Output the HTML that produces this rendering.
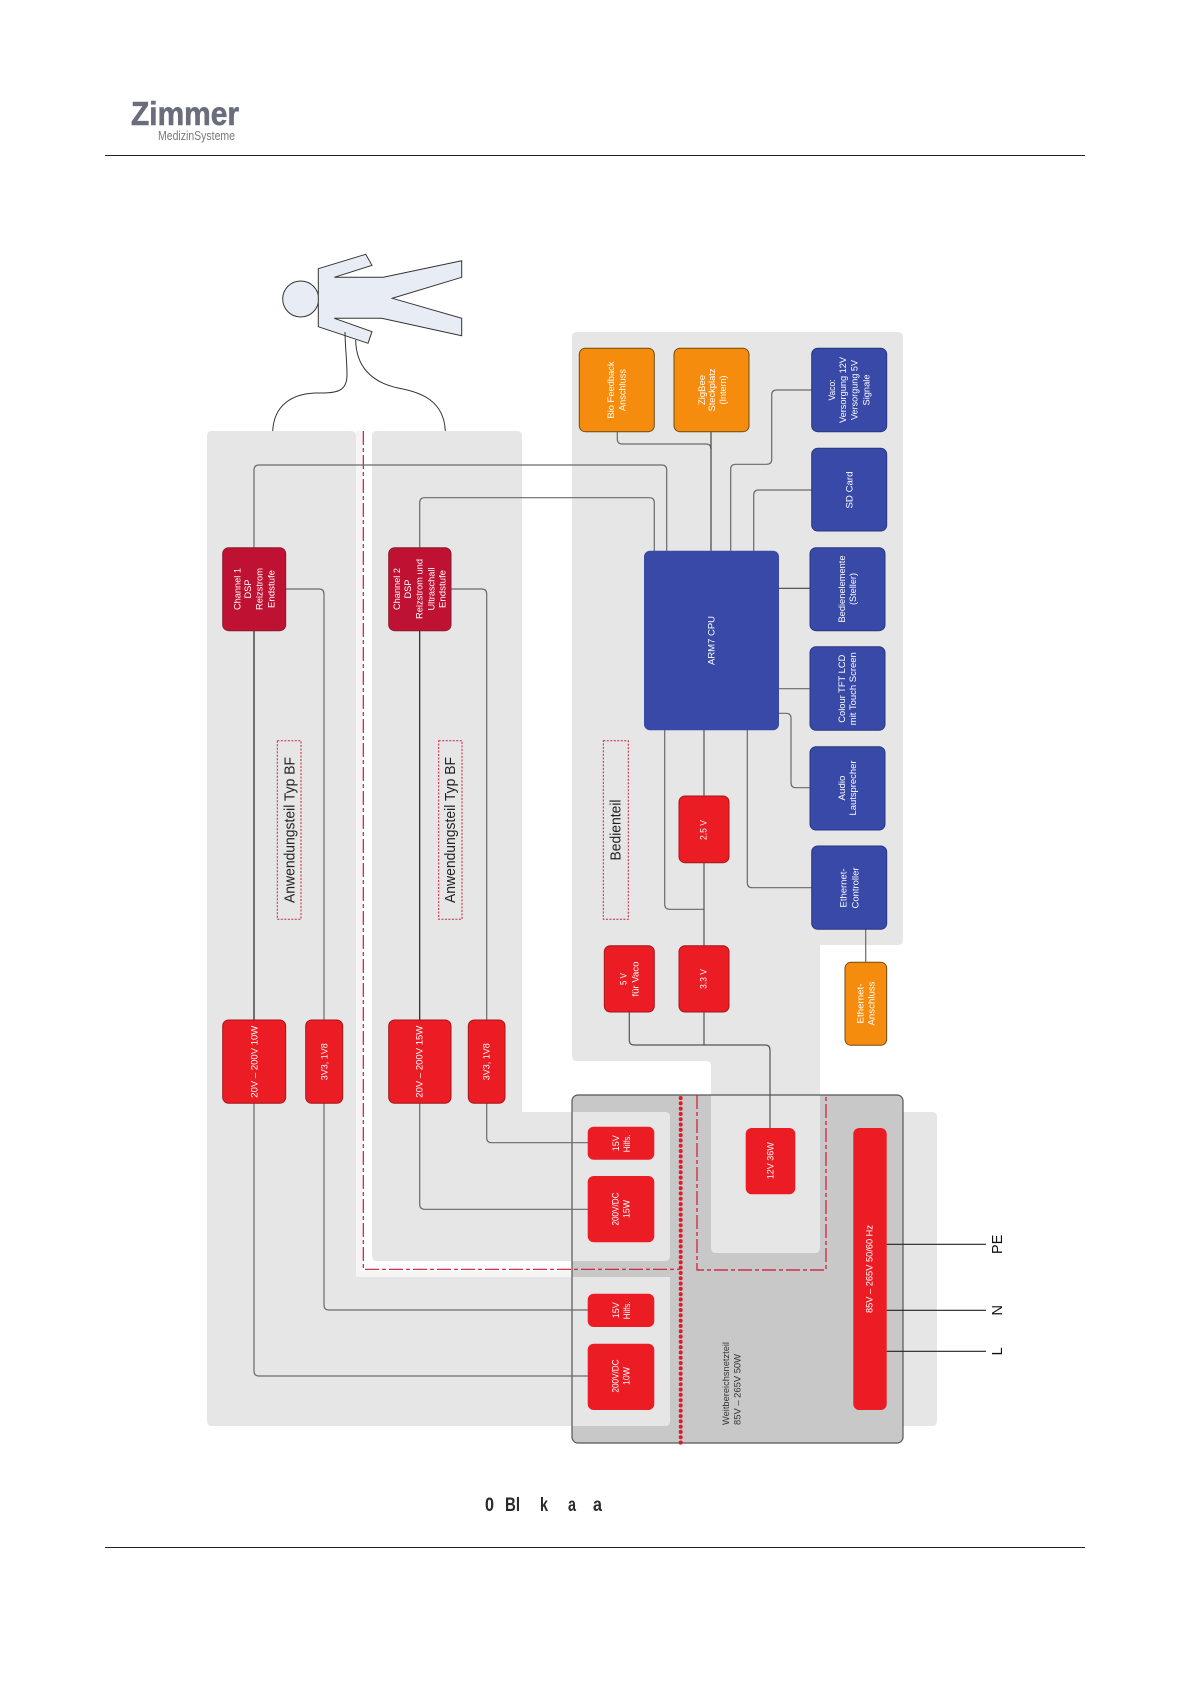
<!DOCTYPE html>
<html>
<head>
<meta charset="utf-8">
<style>
html,body{margin:0;padding:0;background:#fff}
svg{display:block;filter:blur(0.35px)}
text{font-family:"Liberation Sans",sans-serif}
.w text,.w{fill:#fff;font-size:9.5px;text-anchor:middle}
.d{fill:#222;font-size:14.5px;text-anchor:middle}
.k{fill:#333;font-size:9.5px;text-anchor:middle}
.l{fill:none;stroke:#6a6a6a;stroke-width:1.2}
.b{fill:none;stroke:#222;stroke-width:1.2}
.r{fill:#ec1c24}
.rs{fill:#ec1c24;stroke:#a3161c;stroke-width:1}
.c{fill:#bf1232;stroke:#8c1a2a;stroke-width:1}
.u{fill:#3849a8;stroke:#2a3580;stroke-width:1}
.o{fill:#f58c0e;stroke:#6e4c12;stroke-width:1}
</style>
</head>
<body>
<svg xmlns="http://www.w3.org/2000/svg" width="1190" height="1684" viewBox="0 0 1190 1684">
<rect width="1190" height="1684" fill="#fff"/>

<!-- header / footer -->
<line x1="105" y1="155.5" x2="1085" y2="155.5" stroke="#222" stroke-width="1"/>
<line x1="105" y1="1547.5" x2="1085" y2="1547.5" stroke="#222" stroke-width="1"/>
<text x="131" y="125" font-size="33" font-weight="bold" fill="#6a6e7c" stroke="#6a6e7c" stroke-width="0.6" textLength="108" lengthAdjust="spacingAndGlyphs">Zimmer</text>
<text x="158" y="140" font-size="13" fill="#7a7a7a" textLength="77" lengthAdjust="spacingAndGlyphs">MedizinSysteme</text>

<!-- person -->
<circle cx="300.7" cy="299" r="18" fill="#e8edf5" stroke="#333" stroke-width="1"/>
<polygon points="318.3,268.7 365.7,254.3 372,265.3 334.3,277.3 383.3,277.3 461.7,260.7 461.7,277.3 392.3,298.3 461.7,318.3 461.7,335.7 381.7,318.3 334.3,318.3 372,331.7 368,343.3 318.3,326.7" fill="#e8edf5" stroke="#333" stroke-width="1"/>
<path d="M272.7 431 C274 405 292 394 315 393 C335 393 347 393 347 375 C347 360 345 345 345 332" fill="none" stroke="#333" stroke-width="1"/>
<path d="M445.3 431 C444 400 420 392 398 388 C370 382 356 365 355.7 340" fill="none" stroke="#333" stroke-width="1"/>

<!-- dark box -->
<rect x="572" y="1095" width="331" height="348" rx="6" fill="#c8c8c8"/>

<!-- light panels -->
<g fill="#e6e6e6">
<path d="M212 431 H351 Q356 431 356 436 V1277 H670 V1421 Q670 1426 665 1426 H212 Q207 1426 207 1421 V436 Q207 431 212 431 Z"/>
<path d="M377 431 H517 Q522 431 522 436 V1112 H665 Q670 1112 670 1117 V1256 Q670 1261 665 1261 H377 Q372 1261 372 1256 V436 Q372 431 377 431 Z"/>
<path d="M577 332 H898 Q903 332 903 337 V940 Q903 945 898 945 H820 V1248 Q820 1253 815 1253 H716 Q711 1253 711 1248 V1066 Q711 1061 706 1061 H577 Q572 1061 572 1056 V337 Q572 332 577 332 Z"/>
<path d="M903.5 1112 H932 Q937 1112 937 1117 V1421 Q937 1426 932 1426 H903.5 Z"/>
</g>
<rect x="356" y="431" width="6" height="846" fill="#f5f5f5"/>
<rect x="356" y="1271" width="216" height="6" fill="#f5f5f5"/>

<!-- dark box border -->
<rect x="572" y="1095" width="331" height="348" rx="6" fill="none" stroke="#555" stroke-width="1.2"/>

<!-- red dashed -->
<path d="M363.3 431 V1269.3 H680" fill="none" stroke="#d01535" stroke-width="1.2" stroke-dasharray="14 3 4 3"/>
<path d="M697 1095 V1270 H826 V1095" fill="none" stroke="#d01535" stroke-width="1.2" stroke-dasharray="14 3 4 3"/>
<line x1="680.7" y1="1098" x2="680.7" y2="1445" stroke="#dd1c2c" stroke-width="4" stroke-linecap="round" stroke-dasharray="0.1 5.2"/>

<!-- label frames -->
<g fill="none" stroke="#c8203c" stroke-width="1" stroke-dasharray="2 1.5">
<rect x="277.3" y="740.7" width="23.7" height="178.6"/>
<rect x="438.7" y="740.7" width="23.3" height="178.6"/>
<rect x="603.3" y="740.7" width="25" height="178.6"/>
</g>

<!-- connectors -->
<path class="l" d="M254 548 V470 Q254 465 259 465 H661.7 Q666.7 465 666.7 470 V551"/>
<path class="l" d="M419.7 548 V502.7 Q419.7 497.7 424.7 497.7 H649.3 Q654.3 497.7 654.3 502.7 V551"/>
<path class="b" d="M254 630 V1020"/>
<path class="l" d="M254 1103 V1371 Q254 1376 259 1376 H588"/>
<path class="l" d="M286 589 H319 Q324 589 324 594 V1020"/>
<path class="l" d="M324 1103 V1305 Q324 1310 329 1310 H588"/>
<path class="l" d="M451 589 H481.7 Q486.7 589 486.7 594 V1020"/>
<path class="l" d="M486.7 1103 V1137.7 Q486.7 1142.7 491.7 1142.7 H588"/>
<path class="b" d="M419.7 630 V1020"/>
<path class="l" d="M419.7 1103 V1204.3 Q419.7 1209.3 424.7 1209.3 H588"/>
<path class="l" d="M617.3 431.7 V439 Q617.3 444 622.3 444 H706 Q711 444 711 449"/>
<path class="b" d="M711 431.7 V551" style="stroke:#444"/>
<path class="l" d="M811.7 390 H776.7 Q771.7 390 771.7 395 V459.3 Q771.7 464.3 766.7 464.3 H735.7 Q730.7 464.3 730.7 469.3 V551"/>
<path class="l" d="M811.7 490 H758.7 Q753.7 490 753.7 495 V551"/>
<path class="b" d="M779 588.3 H810" style="stroke:#444"/>
<path class="l" d="M779 688.7 H810"/>
<path class="l" d="M779 713.3 H786 Q791 713.3 791 718.3 V782.7 Q791 787.7 796 787.7 H810"/>
<path class="l" d="M747.3 730 V882.7 Q747.3 887.7 752.3 887.7 H811.7"/>
<path class="l" d="M664.7 730 V904.3 Q664.7 909.3 669.7 909.3 H704"/>
<path class="b" d="M704 730 V796 M704 862.7 V945.7 M704 1012 V1045" style="stroke:#555"/>
<path class="b" d="M629.3 1012 V1040 Q629.3 1045 634.3 1045 H765 Q770 1045 770 1050 V1128" style="stroke:#555"/>
<path class="l" d="M865.7 929 V962"/>
<path class="b" d="M886.7 1244.3 H986 M886.7 1310.3 H986 M886.7 1351.3 H986"/>

<!-- boxes -->
<rect class="o" x="579.3" y="348.3" width="75" height="83.4" rx="6"/>
<rect class="o" x="674" y="348.3" width="75" height="83.4" rx="6"/>
<rect class="u" x="811.7" y="348.3" width="75" height="83.4" rx="6"/>
<rect class="u" x="811.7" y="448.3" width="75" height="82.7" rx="6"/>
<rect class="u" x="810" y="547.7" width="75" height="83" rx="6"/>
<rect class="u" x="644" y="550.7" width="135" height="179.6" rx="6" style="stroke:none"/>
<rect class="u" x="810" y="646.7" width="75" height="83.6" rx="6"/>
<rect class="u" x="810" y="746.7" width="75" height="83.3" rx="6"/>
<rect class="u" x="811.7" y="846" width="75" height="83.3" rx="6"/>
<rect class="rs" x="679" y="796" width="50" height="66.7" rx="6"/>
<rect class="rs" x="679" y="945.7" width="50" height="66.3" rx="6"/>
<rect class="rs" x="604.3" y="945.7" width="50" height="66.3" rx="6"/>
<rect class="o" x="845" y="962.3" width="41.7" height="83" rx="6"/>
<rect class="r" x="745.7" y="1128" width="49.6" height="66.3" rx="6"/>
<rect class="r" x="853.3" y="1128" width="33.4" height="282" rx="6"/>
<rect class="r" x="587.7" y="1126.7" width="66.6" height="33" rx="6"/>
<rect class="r" x="587.7" y="1176" width="66.6" height="66.3" rx="6"/>
<rect class="r" x="587.7" y="1293.7" width="66.6" height="33.3" rx="6"/>
<rect class="r" x="587.7" y="1343.7" width="66.6" height="66.3" rx="6"/>
<rect class="c" x="222.7" y="547.7" width="63" height="83" rx="6"/>
<rect class="c" x="388.7" y="547.7" width="62.3" height="83" rx="6"/>
<rect class="rs" x="222.7" y="1020" width="63" height="83.3" rx="6"/>
<rect class="rs" x="305.7" y="1020" width="37" height="83.3" rx="6"/>
<rect class="rs" x="388.7" y="1020" width="62.3" height="83.3" rx="6"/>
<rect class="rs" x="468.3" y="1020" width="36.7" height="83.3" rx="6"/>

<!-- white labels -->
<g class="w">
<text transform="translate(614,390) rotate(-90)" textLength="57" lengthAdjust="spacingAndGlyphs">Bio Feedback</text>
<text transform="translate(625.6,390) rotate(-90)" textLength="42" lengthAdjust="spacingAndGlyphs">Anschluss</text>
<text transform="translate(705,390) rotate(-90)" textLength="30" lengthAdjust="spacingAndGlyphs">ZigBee</text>
<text transform="translate(715,390) rotate(-90)" textLength="43" lengthAdjust="spacingAndGlyphs">Steckplatz</text>
<text transform="translate(726,390) rotate(-90)" textLength="29" lengthAdjust="spacingAndGlyphs">(Intern)</text>
<text transform="translate(835,390) rotate(-90)" textLength="21" lengthAdjust="spacingAndGlyphs">Vaco:</text>
<text transform="translate(846,390) rotate(-90)" textLength="66" lengthAdjust="spacingAndGlyphs">Versorgung 12V</text>
<text transform="translate(857.3,390) rotate(-90)" textLength="60" lengthAdjust="spacingAndGlyphs">Versorgung 5V</text>
<text transform="translate(869.3,390) rotate(-90)" textLength="31" lengthAdjust="spacingAndGlyphs">Signale</text>
<text transform="translate(852.3,490) rotate(-90)" textLength="37" lengthAdjust="spacingAndGlyphs">SD Card</text>
<text transform="translate(845,589) rotate(-90)" textLength="67" lengthAdjust="spacingAndGlyphs">Bedienelemente</text>
<text transform="translate(856,589) rotate(-90)" textLength="32" lengthAdjust="spacingAndGlyphs">(Steller)</text>
<text transform="translate(714.3,640.5) rotate(-90)" textLength="49" lengthAdjust="spacingAndGlyphs">ARM7 CPU</text>
<text transform="translate(845,688.7) rotate(-90)" textLength="68" lengthAdjust="spacingAndGlyphs">Colour TFT LCD</text>
<text transform="translate(856,688.7) rotate(-90)" textLength="73" lengthAdjust="spacingAndGlyphs">mit Touch Screen</text>
<text transform="translate(845,788) rotate(-90)" textLength="25" lengthAdjust="spacingAndGlyphs">Audio</text>
<text transform="translate(856,788) rotate(-90)" textLength="55" lengthAdjust="spacingAndGlyphs">Lautsprecher</text>
<text transform="translate(846.6,888) rotate(-90)" textLength="39" lengthAdjust="spacingAndGlyphs">Ethernet-</text>
<text transform="translate(858.3,888) rotate(-90)" textLength="41" lengthAdjust="spacingAndGlyphs">Controller</text>
<text transform="translate(706.6,830) rotate(-90)" textLength="20" lengthAdjust="spacingAndGlyphs">2.5 V</text>
<text transform="translate(706.6,979) rotate(-90)" textLength="20" lengthAdjust="spacingAndGlyphs">3.3 V</text>
<text transform="translate(626.6,979) rotate(-90)" textLength="12" lengthAdjust="spacingAndGlyphs">5 V</text>
<text transform="translate(638.3,979) rotate(-90)" textLength="35" lengthAdjust="spacingAndGlyphs">für Vaco</text>
<text transform="translate(863.3,1003.5) rotate(-90)" textLength="40" lengthAdjust="spacingAndGlyphs">Ethernet-</text>
<text transform="translate(874.3,1003.5) rotate(-90)" textLength="44" lengthAdjust="spacingAndGlyphs">Anschluss</text>
<text transform="translate(773.3,1160.7) rotate(-90)" textLength="37" lengthAdjust="spacingAndGlyphs">12V 36W</text>
<text transform="translate(619,1143.3) rotate(-90)" textLength="16" lengthAdjust="spacingAndGlyphs">15V</text>
<text transform="translate(630,1143.3) rotate(-90)" textLength="18" lengthAdjust="spacingAndGlyphs">Hilfs.</text>
<text transform="translate(618.3,1209) rotate(-90)" textLength="33" lengthAdjust="spacingAndGlyphs">200V/DC</text>
<text transform="translate(629.3,1209) rotate(-90)" textLength="18" lengthAdjust="spacingAndGlyphs">15W</text>
<text transform="translate(619,1310.3) rotate(-90)" textLength="16" lengthAdjust="spacingAndGlyphs">15V</text>
<text transform="translate(630,1310.3) rotate(-90)" textLength="18" lengthAdjust="spacingAndGlyphs">Hilfs.</text>
<text transform="translate(618.3,1376) rotate(-90)" textLength="33" lengthAdjust="spacingAndGlyphs">200V/DC</text>
<text transform="translate(629.3,1376) rotate(-90)" textLength="18" lengthAdjust="spacingAndGlyphs">10W</text>
<text transform="translate(872.6,1269) rotate(-90)" textLength="88" lengthAdjust="spacingAndGlyphs">85V – 265V 50/60 Hz</text>
<text transform="translate(240.6,589) rotate(-90)" textLength="42" lengthAdjust="spacingAndGlyphs">Channel 1</text>
<text transform="translate(251,589) rotate(-90)" textLength="19" lengthAdjust="spacingAndGlyphs">DSP</text>
<text transform="translate(262.6,589) rotate(-90)" textLength="42" lengthAdjust="spacingAndGlyphs">Reizstrom</text>
<text transform="translate(274.3,589) rotate(-90)" textLength="38" lengthAdjust="spacingAndGlyphs">Endstufe</text>
<text transform="translate(400,589) rotate(-90)" textLength="42" lengthAdjust="spacingAndGlyphs">Channel 2</text>
<text transform="translate(411,589) rotate(-90)" textLength="19" lengthAdjust="spacingAndGlyphs">DSP</text>
<text transform="translate(422.6,589) rotate(-90)" textLength="60" lengthAdjust="spacingAndGlyphs">Reizstrom und</text>
<text transform="translate(434.3,589) rotate(-90)" textLength="43" lengthAdjust="spacingAndGlyphs">Ultraschall</text>
<text transform="translate(445.6,589) rotate(-90)" textLength="38" lengthAdjust="spacingAndGlyphs">Endstufe</text>
<text transform="translate(257.3,1061.7) rotate(-90)" textLength="72" lengthAdjust="spacingAndGlyphs">20V – 200V 10W</text>
<text transform="translate(422.6,1061.7) rotate(-90)" textLength="72" lengthAdjust="spacingAndGlyphs">20V – 200V 15W</text>
<text transform="translate(327.3,1061.7) rotate(-90)" textLength="37" lengthAdjust="spacingAndGlyphs">3V3, 1V8</text>
<text transform="translate(489.3,1061.7) rotate(-90)" textLength="37" lengthAdjust="spacingAndGlyphs">3V3, 1V8</text>
</g>

<!-- dark labels -->
<text class="d" transform="translate(294.5,830) rotate(-90)" textLength="146" lengthAdjust="spacingAndGlyphs">Anwendungsteil Typ BF</text>
<text class="d" transform="translate(455,830) rotate(-90)" textLength="146" lengthAdjust="spacingAndGlyphs">Anwendungsteil Typ BF</text>
<text class="d" transform="translate(620.7,830) rotate(-90)" textLength="61" lengthAdjust="spacingAndGlyphs">Bedienteil</text>
<text class="k" transform="translate(729,1383.5) rotate(-90)" textLength="83" lengthAdjust="spacingAndGlyphs">Weitbereichsnetzteil</text>
<text class="k" transform="translate(740.6,1389.5) rotate(-90)" textLength="71" lengthAdjust="spacingAndGlyphs">85V – 265V 50W</text>
<text class="d" transform="translate(1002,1244.3) rotate(-90)" style="fill:#111">PE</text>
<text class="d" transform="translate(1002,1310.3) rotate(-90)" style="fill:#111">N</text>
<text class="d" transform="translate(1002,1351.3) rotate(-90)" style="fill:#111">L</text>

<!-- caption -->
<g font-size="19.5" font-weight="bold" fill="#2a2a2a">
<text x="485" y="1511" textLength="9" lengthAdjust="spacingAndGlyphs">0</text>
<text x="505" y="1511" textLength="15" lengthAdjust="spacingAndGlyphs">Bl</text>
<text x="540" y="1511" textLength="8" lengthAdjust="spacingAndGlyphs">k</text>
<text x="568" y="1511" textLength="8" lengthAdjust="spacingAndGlyphs">a</text>
<text x="593" y="1511" textLength="9" lengthAdjust="spacingAndGlyphs">a</text>
</g>
</svg>
</body>
</html>
